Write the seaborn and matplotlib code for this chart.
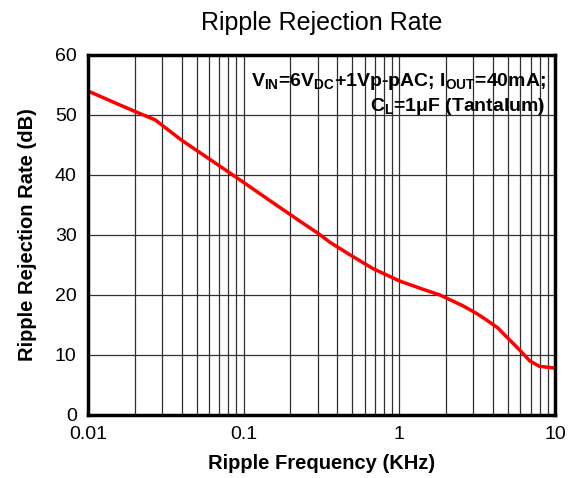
import numpy as np
import pandas as pd
import matplotlib.pyplot as plt
import matplotlib.ticker as mticker
import seaborn as sns

# values
freq_khz = [0.01, 0.015, 0.02, 0.027, 0.04, 0.0853, 0.15, 0.23, 0.3, 0.358, 0.482, 0.677,
            1.01, 1.4, 1.82, 2.2, 2.56, 3.1, 3.65, 4.3, 4.9, 5.95, 6.9, 7.95, 10.0]
rejection_db = [54.0, 52.0, 50.6, 49.2, 45.8, 40.0, 35.6, 32.3, 30.3, 28.8, 26.7, 24.4,
                22.3, 21.0, 20.0, 19.0, 18.2, 17.0, 15.8, 14.5, 13.0, 10.8, 9.0, 8.1, 7.8]
x_ticks = [0.01, 0.1, 1, 10]
x_tick_labels = ['0.01', '0.1', '1', '10']
y_ticks = [0, 10, 20, 30, 40, 50, 60]

data = pd.DataFrame({'freq': freq_khz, 'rr': rejection_db})

sns.set_style('white', {'text.color': 'black', 'axes.labelcolor': 'black',
                        'xtick.color': 'black', 'ytick.color': 'black'})
plt.rcParams['font.family'] = ['Liberation Sans', 'DejaVu Sans']
plt.rcParams['mathtext.fontset'] = 'custom'
plt.rcParams['mathtext.rm'] = 'Liberation Sans:bold'
plt.rcParams['mathtext.bf'] = 'Liberation Sans:bold'

fig = plt.figure(figsize=(5.78, 4.78), dpi=100)
ax = fig.add_axes([0.152, 0.132, 0.808, 0.753])

sns.lineplot(x='freq', y='rr', data=data, color='#ff0000', linewidth=2.5, ax=ax)

ax.set_xscale('log')
ax.set_xlim(0.01, 10)
ax.set_ylim(0, 60)
ax.xaxis.set_major_locator(mticker.FixedLocator(x_ticks))
ax.xaxis.set_major_formatter(mticker.FixedFormatter(x_tick_labels))
ax.xaxis.set_minor_locator(mticker.LogLocator(base=10, subs=np.arange(2, 10)))
ax.xaxis.set_minor_formatter(mticker.NullFormatter())
ax.set_yticks(y_ticks)

ax.grid(True, which='both', axis='x', color='#303030', linewidth=0.9)
ax.grid(True, which='major', axis='y', color='#303030', linewidth=0.9)
ax.tick_params(which='both', length=0, labelsize=14, labelcolor='black')
ax.tick_params(axis='x', pad=8)
ax.tick_params(axis='y', pad=8)
for s in ax.spines.values():
    s.set_color('black')
    s.set_linewidth(2.5)

ax.set_title('Ripple Rejection Rate', fontsize=18, pad=18, color='black')
ax.set_xlabel('Ripple Frequency (KHz)', fontsize=14.5, fontweight='bold', labelpad=8, color='black')
ax.set_ylabel('Ripple Rejection Rate (dB)', fontsize=14.5, fontweight='bold', labelpad=13, color='black')

ax.text(0.98, 0.955, r'V$_{\mathrm{IN}}$=6V$_{\mathrm{DC}}$+1Vp-pAC; I$_{\mathrm{OUT}}$=40mA;',
        transform=ax.transAxes, ha='right', va='top', fontsize=14, fontweight='bold', color='black')
ax.text(0.98, 0.885, r'C$_{\mathrm{L}}$=1μF (Tantalum)',
        transform=ax.transAxes, ha='right', va='top', fontsize=14, fontweight='bold', color='black')

plt.savefig('out.png', dpi=100)
